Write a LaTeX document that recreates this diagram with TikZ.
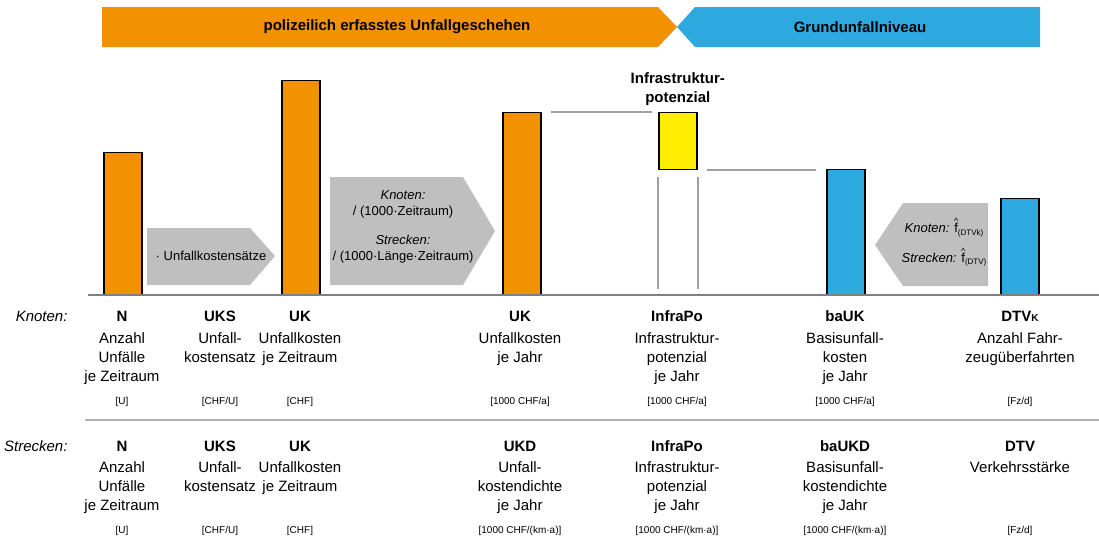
\documentclass[tikz,border=0pt]{standalone}
\usepackage{fontspec}
\setmainfont{Liberation Sans}
\usetikzlibrary{positioning}

\definecolor{unfallorange}{RGB}{243,146,0}
\definecolor{grundblau}{RGB}{46,169,224}
\definecolor{infragelb}{RGB}{255,237,0}
\definecolor{pfeilgrau}{RGB}{191,191,191}
\definecolor{liniengrau}{RGB}{160,160,160}

\newcommand{\fhat}[1]{\ooalign{f\cr\hidewidth\raisebox{8pt}{\fontsize{9}{9}\selectfont\^{}}\hidewidth\cr}\raisebox{-2.5pt}{\fontsize{8}{8}\selectfont #1}}

\begin{document}
\begin{tikzpicture}[x=1pt,y=-1pt,
    bar/.style={draw=black,line width=1.5pt,minimum width=38pt,inner sep=0pt,anchor=south west},
    verbindung/.style={draw=liniengrau,line width=2pt},
    titel/.style={font=\fontsize{15}{18}\selectfont\bfseries,anchor=base},
    beschr/.style={font=\fontsize{15}{19}\selectfont,align=center,anchor=north,inner sep=0pt},
    einheit/.style={font=\fontsize{10}{12}\selectfont,anchor=base},
    zeile/.style={font=\fontsize{15}{18}\selectfont\itshape,anchor=base east},
    pfeiltext/.style={font=\fontsize{13}{16.5}\selectfont,align=center,inner sep=0pt}]

  \useasboundingbox (0,0) rectangle (1099,538);

  % Kopfzeile
  \fill[unfallorange] (102,7) -- (658,7) -- (677,27) -- (658,47) -- (102,47) -- cycle;
  \fill[grundblau] (695,7) -- (1040,7) -- (1040,47) -- (695,47) -- (677,27) -- cycle;
  \node[font=\fontsize{15}{18}\selectfont\bfseries] (polizei) at (397,27) {polizeilich erfasstes Unfallgeschehen};
  \node[font=\fontsize{15}{18}\selectfont\bfseries] (grund) at (860,27) {Grundunfallniveau};

  % Pfeile
  \fill[pfeilgrau] (147,228) -- (250,228) -- (275,256) -- (250,285) -- (147,285) -- cycle;
  \fill[pfeilgrau] (330,177) -- (463,177) -- (495,231) -- (463,285) -- (330,285) -- cycle;
  \fill[pfeilgrau] (875,245) -- (903,203) -- (988,203) -- (988,286) -- (903,286) -- cycle;
  \node[pfeiltext] (satz) at (211,256) {· Unfallkostensätze};
  \node[pfeiltext] (teiler) at (403,227) {\textit{Knoten:}\\/ (1000·Zeitraum)\\[12pt]\textit{Strecken:}\\/ (1000·Länge·Zeitraum)};
  \node[pfeiltext] (faktor) at (944,245) {\textit{Knoten:} \fhat{(DTVk)}\\[13pt]\textit{Strecken:} \fhat{(DTV)}};

  % Saeulen
  \coordinate (basis) at (0,295);
  \begin{scope}[every node/.style={bar}]
    \node[fill=unfallorange,minimum height=142pt] (n)    at (103,295) {};
    \node[fill=unfallorange,minimum height=214pt] (uk)   at (281,295) {};
    \node[fill=unfallorange,minimum height=182pt] (uka)  at (502,295) {};
    \node[fill=infragelb,minimum height=57pt]     (infra) at (658,170) {};
    \node[fill=grundblau,minimum height=125pt]    (bauk) at (826,295) {};
    \node[fill=grundblau,minimum height=96pt]     (dtv)  at (1000,295) {};
  \end{scope}
  \node[font=\fontsize{15}{19}\selectfont\bfseries,align=center,above=2pt of infra] (infratext) {Infrastruktur-\\potenzial};

  \draw[verbindung] ([xshift=9pt]uka.north east) -- ([xshift=-6pt]infra.north west);
  \draw[verbindung] ([xshift=9pt]infra.south east) -- ([xshift=-10pt]infra.south east -| bauk.west);
  \draw[verbindung] ([yshift=-7pt]infra.south west) -- ([yshift=6pt]infra.south west |- basis);
  \draw[verbindung] ([yshift=-7pt]infra.south east) -- ([yshift=6pt]infra.south east |- basis);

  \draw[draw=gray,line width=2pt] (88,295) -- (1099,295);
  \draw[draw=liniengrau!80,line width=2pt] (85,420) -- (1099,420);

  % Knoten
  \node[zeile] (knoten) at (71,321) {Knoten:};
  \node[titel] (kn) at (122,321) {N};
  \node[titel] (kuks) at (220,321) {UKS};
  \node[titel] (kuk) at (300,321) {UK};
  \node[titel] (kuka) at (520,321) {UK};
  \node[titel] (kinfra) at (677,321) {InfraPo};
  \node[titel] (kbauk) at (845,321) {baUK};
  \node[titel] (kdtv) at (1020,321) {DTV{\fontsize{10}{10}\selectfont K}};

  \node[beschr] at (122,332) {Anzahl\\Unfälle\\je Zeitraum};
  \node[beschr] at (220,332) {Unfall-\\kostensatz};
  \node[beschr] at (300,332) {Unfallkosten\\je Zeitraum};
  \node[beschr] at (520,332) {Unfallkosten\\je Jahr};
  \node[beschr] at (677,332) {Infrastruktur-\\potenzial\\je Jahr};
  \node[beschr] at (845,332) {Basisunfall-\\kosten\\je Jahr};
  \node[beschr] at (1020,332) {Anzahl Fahr-\\zeugüberfahrten};

  \node[einheit] at (122,404) {[U]};
  \node[einheit] at (220,404) {[CHF/U]};
  \node[einheit] at (300,404) {[CHF]};
  \node[einheit] at (520,404) {[1000 CHF/a]};
  \node[einheit] at (677,404) {[1000 CHF/a]};
  \node[einheit] at (845,404) {[1000 CHF/a]};
  \node[einheit] at (1020,404) {[Fz/d]};

  % Strecken
  \node[zeile] (strecken) at (71,451) {Strecken:};
  \node[titel] (sn) at (122,451) {N};
  \node[titel] (suks) at (220,451) {UKS};
  \node[titel] (suk) at (300,451) {UK};
  \node[titel] (sukd) at (520,451) {UKD};
  \node[titel] (sinfra) at (677,451) {InfraPo};
  \node[titel] (sbaukd) at (845,451) {baUKD};
  \node[titel] (sdtv) at (1020,451) {DTV};

  \node[beschr] at (122,461) {Anzahl\\Unfälle\\je Zeitraum};
  \node[beschr] at (220,461) {Unfall-\\kostensatz};
  \node[beschr] at (300,461) {Unfallkosten\\je Zeitraum};
  \node[beschr] at (520,461) {Unfall-\\kostendichte\\je Jahr};
  \node[beschr] at (677,461) {Infrastruktur-\\potenzial\\je Jahr};
  \node[beschr] at (845,461) {Basisunfall-\\kostendichte\\je Jahr};
  \node[beschr] at (1020,461) {Verkehrsstärke};

  \node[einheit] at (122,533) {[U]};
  \node[einheit] at (220,533) {[CHF/U]};
  \node[einheit] at (300,533) {[CHF]};
  \node[einheit] at (520,533) {[1000 CHF/(km·a)]};
  \node[einheit] at (677,533) {[1000 CHF/(km·a)]};
  \node[einheit] at (845,533) {[1000 CHF/(km·a)]};
  \node[einheit] at (1020,533) {[Fz/d]};

\end{tikzpicture}
\end{document}
